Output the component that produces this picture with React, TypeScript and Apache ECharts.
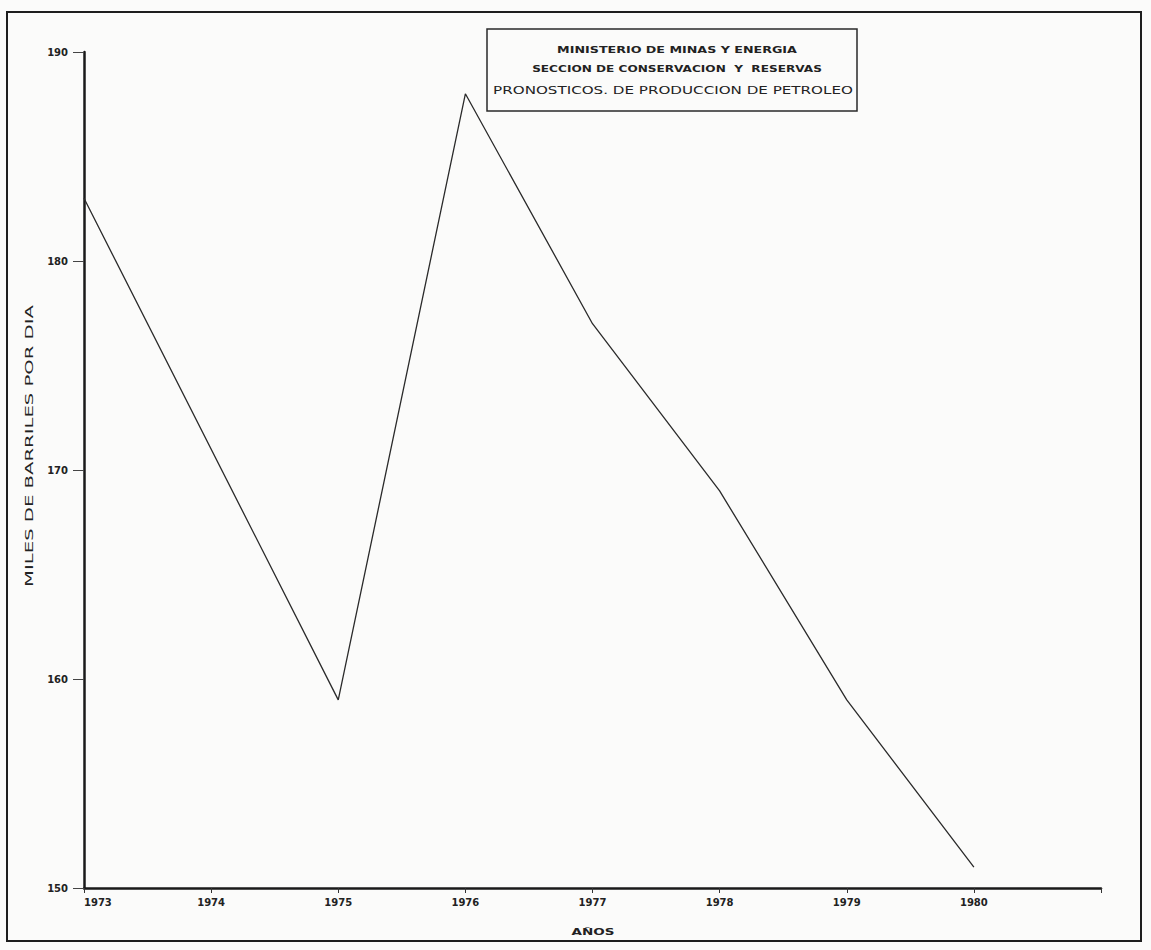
import React, { useEffect, useRef } from "react";
import * as echarts from "echarts";

// ---- Data ----
const years: number[] = [1973, 1975, 1976, 1977, 1978, 1979, 1980];
const production: number[] = [183, 159, 188, 177, 169, 159, 151];
const yMin = 150;
const yMax = 190;
const yStep = 10;
const xMin = 1973;
const xMax = 1981;
const titleLines: string[] = [
  "MINISTERIO DE MINAS Y ENERGIA",
  "SECCION DE CONSERVACION  Y  RESERVAS",
  "PRONOSTICOS. DE PRODUCCION DE PETROLEO",
];
const yAxisTitle = "MILES DE BARRILES POR DIA";
const xAxisTitle = "AÑOS";

const FONT = "DejaVu Sans";
const INK = "#222";

let measureCtx: CanvasRenderingContext2D | null = null;
function measure(text: string, weight: string, size: number): number {
  if (!measureCtx) measureCtx = document.createElement("canvas").getContext("2d");
  if (!measureCtx) return text.length * size * 0.6;
  measureCtx.font = `${weight} ${size}px "${FONT}"`;
  return measureCtx.measureText(text).width;
}

function stretched(text: string, cx: number, cy: number, targetW: number, size: number, weight: string, rotation = 0) {
  const w = measure(text, weight, size);
  return {
    type: "text",
    x: cx,
    y: cy,
    rotation,
    scaleX: targetW / w,
    silent: true,
    z: 10,
    style: {
      text,
      x: 0,
      y: 0,
      align: "center",
      verticalAlign: "middle",
      fontSize: size,
      fontWeight: weight,
      fontFamily: FONT,
      fill: INK,
    },
  };
}

export default function App() {
  const ref = useRef<HTMLDivElement>(null);

  useEffect(() => {
    if (!ref.current) return;
    const chart = echarts.init(ref.current, null, { renderer: "svg" });
    const option: any = {
      animation: false,
      backgroundColor: "#fbfbfa",
      grid: { left: 84, right: 50, top: 52, bottom: 62 },
      xAxis: {
        type: "value",
        min: xMin,
        max: xMax,
        interval: 1,
        axisLine: { show: true, lineStyle: { color: "#1a1a1a", width: 2.5 } },
        axisTick: { show: true, length: 5, lineStyle: { color: "#333", width: 1 } },
        splitLine: { show: false },
        axisLabel: {
          color: INK,
          fontSize: 10,
          fontWeight: "bold",
          fontFamily: FONT,
          margin: 9,
          alignMinLabel: "left",
          formatter: (v: number) => (v >= xMax ? "" : String(v)),
        },
      },
      yAxis: {
        type: "value",
        min: yMin,
        max: yMax,
        interval: yStep,
        axisLine: { show: true, lineStyle: { color: "#1a1a1a", width: 2.5 } },
        axisTick: { show: true, length: 11, lineStyle: { color: "#444", width: 1 } },
        splitLine: { show: false },
        axisLabel: {
          color: INK,
          fontSize: 10,
          fontWeight: "bold",
          fontFamily: FONT,
          margin: 16,
        },
      },
      series: [
        {
          type: "line",
          data: years.map((y, i) => [y, production[i]]),
          symbol: "none",
          lineStyle: { color: "#2a2a2a", width: 1.3 },
        },
      ],
      graphic: [
        {
          type: "rect",
          silent: true,
          shape: { x: 7, y: 12, width: 1134, height: 929 },
          style: { fill: "none", stroke: "#1e1e1e", lineWidth: 2 },
        },
        {
          type: "rect",
          silent: true,
          z: 9,
          shape: { x: 487, y: 29, width: 370, height: 82 },
          style: { fill: "#fbfbfa", stroke: "#2a2a2a", lineWidth: 1.5 },
        },
        stretched(titleLines[0], 677, 50, 240, 8, "bold"),
        stretched(titleLines[1], 677, 69, 290, 8, "bold"),
        stretched(titleLines[2], 673, 90, 360, 11, "normal"),
        stretched(yAxisTitle, 30, 446, 282, 10, "normal", Math.PI / 2),
        stretched(xAxisTitle, 593, 932, 43, 8, "bold"),
      ],
    };
    chart.setOption(option);
    return () => chart.dispose();
  }, []);

  return (
    <div
      ref={ref}
      style={{ position: "absolute", left: 0, top: 0, width: 1151, height: 950 }}
    />
  );
}
